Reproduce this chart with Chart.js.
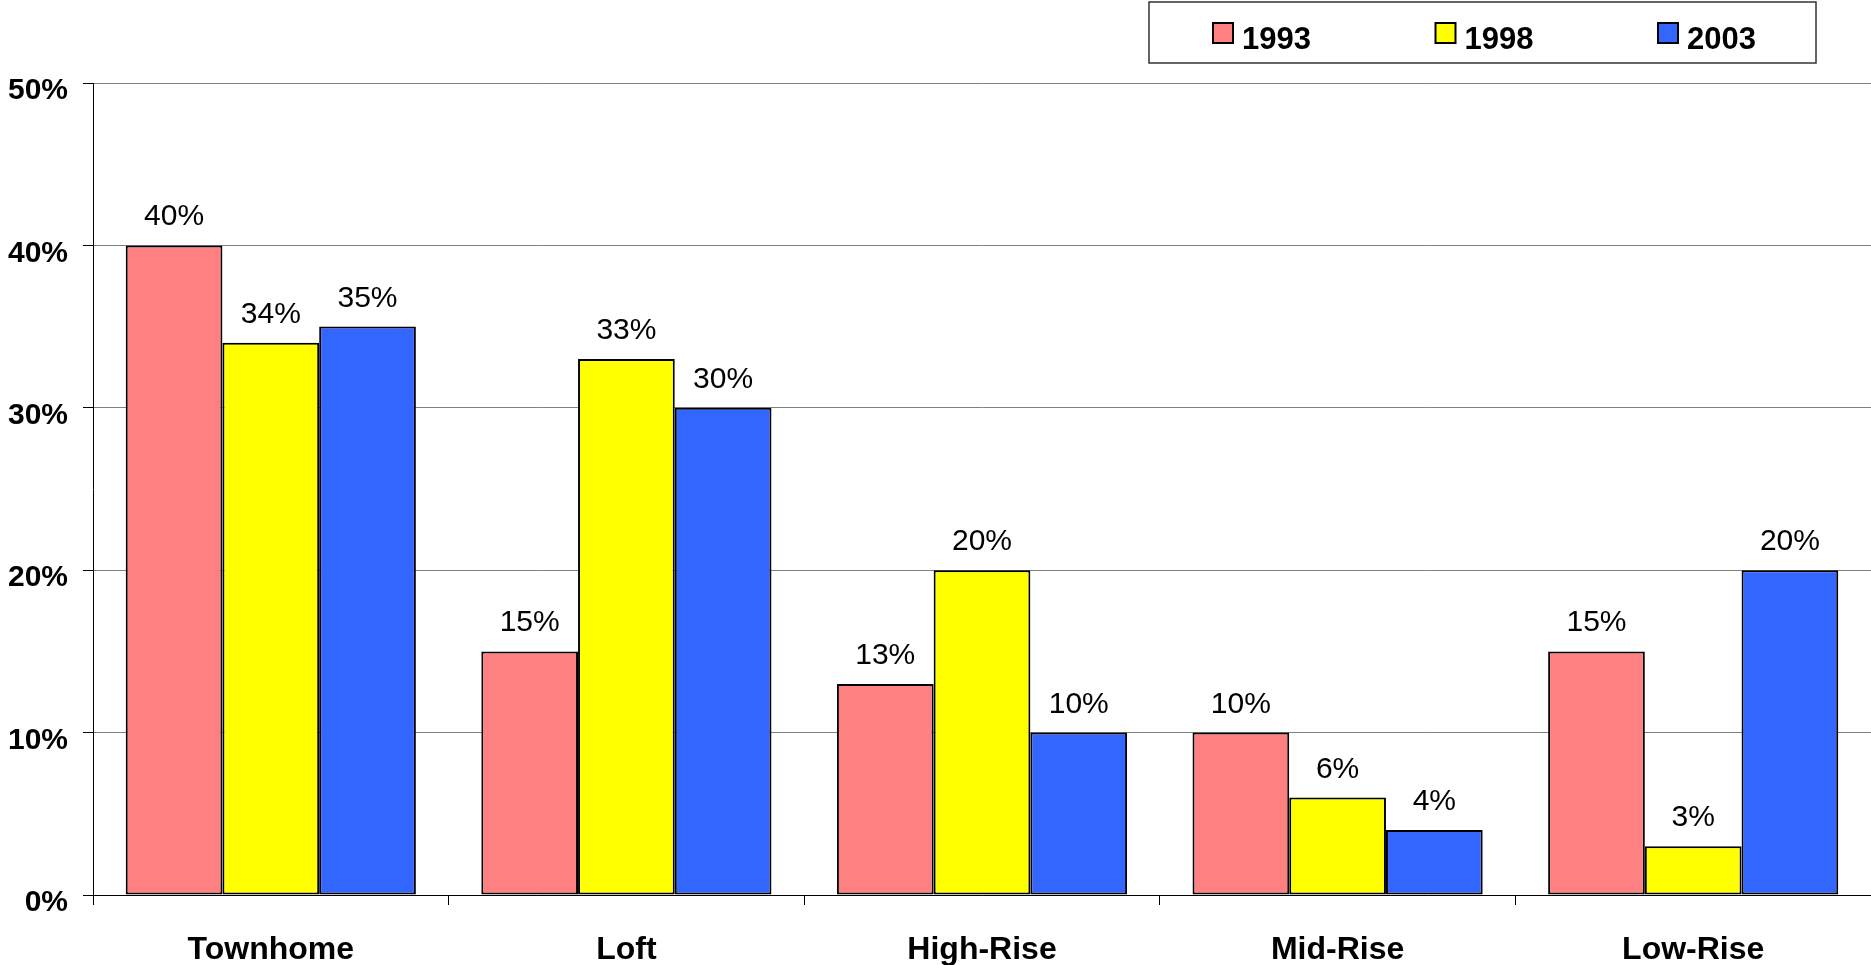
<!DOCTYPE html>
<html>
<head>
<meta charset="utf-8">
<title>Housing type share by year</title>
<script src="https://cdn.jsdelivr.net/npm/chart.js@4.4.1/dist/chart.umd.min.js"></script>
<style>
  html, body { margin: 0; padding: 0; background: #ffffff; overflow: hidden; }
  canvas { display: block; }
</style>
</head>
<body>
<canvas id="chart" width="1871" height="965"></canvas>
<script>
// Housing types and their share (%) in each survey year
const categories = ['Townhome', 'Loft', 'High-Rise', 'Mid-Rise', 'Low-Rise'];
const years = ['1993', '1998', '2003'];
const share1993 = [40, 15, 13, 10, 15];
const share1998 = [34, 33, 20, 6, 3];
const share2003 = [35, 30, 10, 4, 20];
const yTickValues = [0, 10, 20, 30, 40, 50];

const FONT = '"Liberation Sans", Arial, Helvetica, sans-serif';
const seriesColors = ['#FF8080', '#FFFF00', '#3366FF'];
const seriesValues = [share1993, share1998, share2003];

// Legend drawn inside a framed box at the top right
const boxedLegend = {
  id: 'boxedLegend',
  afterDraw(chart, args, o) {
    const ctx = chart.ctx;
    const left = chart.width - o.rightGap - o.width;
    ctx.save();
    ctx.strokeStyle = '#333333';
    ctx.lineWidth = 1.5;
    ctx.strokeRect(left, o.top, o.width, o.height);
    ctx.font = 'bold ' + o.fontSize + 'px ' + FONT;
    ctx.textBaseline = 'alphabetic';
    ctx.textAlign = 'left';
    chart.data.datasets.forEach((ds, i) => {
      const x = left + o.firstOffset + i * o.step;
      ctx.fillStyle = ds.backgroundColor;
      ctx.fillRect(x, o.swatchTop, o.swatch, o.swatch);
      ctx.strokeStyle = '#000000';
      ctx.lineWidth = 2;
      ctx.strokeRect(x, o.swatchTop, o.swatch, o.swatch);
      ctx.fillStyle = '#000000';
      ctx.fillText(ds.label, x + o.swatch + o.textGap, o.baseline);
    });
    ctx.restore();
  }
};

// Percentage printed above each bar
const barValueLabels = {
  id: 'barValueLabels',
  afterDatasetsDraw(chart, args, o) {
    const ctx = chart.ctx;
    ctx.save();
    ctx.font = o.fontSize + 'px ' + FONT;
    ctx.fillStyle = '#000000';
    ctx.textAlign = 'center';
    ctx.textBaseline = 'alphabetic';
    chart.data.datasets.forEach((ds, di) => {
      const meta = chart.getDatasetMeta(di);
      meta.data.forEach((bar, i) => {
        ctx.fillText(ds.data[i] + '%', bar.x, bar.y - o.gap);
      });
    });
    ctx.restore();
  }
};

const datasets = years.map((y, i) => ({
  label: y,
  data: seriesValues[i],
  backgroundColor: seriesColors[i],
  borderColor: '#000000',
  borderWidth: 2,
  borderSkipped: false,
  categoryPercentage: 0.816,
  barPercentage: 1.0
}));

new Chart(document.getElementById('chart'), {
  type: 'bar',
  data: { labels: categories, datasets },
  plugins: [boxedLegend, barValueLabels],
  options: {
    responsive: false,
    animation: false,
    layout: { padding: { top: 83, left: 8, right: 0, bottom: 0 } },
    plugins: {
      legend: { display: false },
      tooltip: { enabled: false },
      boxedLegend: {
        width: 667, height: 61, top: 2, rightGap: 55,
        firstOffset: 64, step: 222.5, swatch: 20, swatchTop: 23,
        textGap: 9, baseline: 49, fontSize: 31
      },
      barValueLabels: { fontSize: 30, gap: 20 }
    },
    scales: {
      x: {
        offset: true,
        afterFit(scale) { scale.height = 70; },
        grid: {
          display: true,
          offset: true,
          drawOnChartArea: false,
          drawTicks: true,
          tickLength: 10,
          color: '#000000',
          tickColor: '#000000'
        },
        border: { display: true, color: '#000000', width: 1 },
        ticks: {
          color: '#000000',
          padding: 29,
          font: { family: FONT, size: 32, weight: 'bold', lineHeight: 1 }
        }
      },
      y: {
        min: 0,
        max: 50,
        afterFit(scale) { scale.width = 85; },
        afterBuildTicks(scale) {
          scale.ticks = yTickValues.map(v => ({ value: v }));
        },
        grid: {
          color: '#808080',
          lineWidth: 1,
          tickLength: 10,
          tickColor: '#000000'
        },
        border: { display: true, color: '#000000', width: 1 },
        ticks: {
          color: '#000000',
          padding: 15,
          labelOffset: 8,
          font: { family: FONT, size: 30, weight: 'bold' },
          callback: v => v + '%'
        }
      }
    }
  }
});
</script>
</body>
</html>
